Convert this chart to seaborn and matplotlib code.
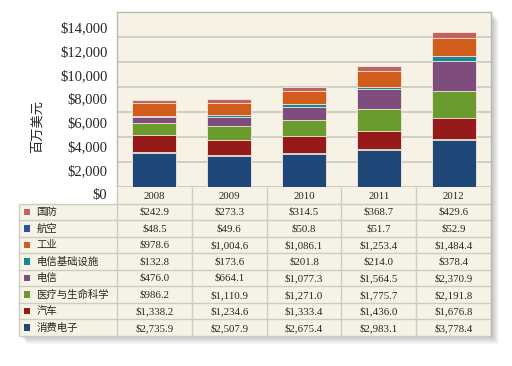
import numpy as np
import pandas as pd
import matplotlib
matplotlib.use("Agg")
import matplotlib.pyplot as plt
import seaborn as sns
from matplotlib.patches import Rectangle
from matplotlib.ticker import FuncFormatter
from matplotlib.transforms import ScaledTranslation

# data (table order, top row first)
years = ["2008", "2009", "2010", "2011", "2012"]
segments = ["国防", "航空", "工业", "电信基础设施", "电信", "医疗与生命科学", "汽车", "消费电子"]
defense = [242.9, 273.3, 314.5, 368.7, 429.6]
aviation = [48.5, 49.6, 50.8, 51.7, 52.9]
industrial = [978.6, 1004.6, 1086.1, 1253.4, 1484.4]
telecom_infra = [132.8, 173.6, 201.8, 214.0, 378.4]
telecom = [476.0, 664.1, 1077.3, 1564.5, 2370.9]
medical = [986.2, 1110.9, 1271.0, 1775.7, 2191.8]
auto = [1338.2, 1234.6, 1333.4, 1436.0, 1676.8]
consumer = [2735.9, 2507.9, 2675.4, 2983.1, 3778.4]

values = {
    "国防": defense, "航空": aviation, "工业": industrial,
    "电信基础设施": telecom_infra, "电信": telecom,
    "医疗与生命科学": medical, "汽车": auto, "消费电子": consumer,
}
colors = {
    "国防": "#c0625f", "航空": "#2a55a0", "工业": "#d15c1c",
    "电信基础设施": "#1b8796", "电信": "#7f4d7d",
    "医疗与生命科学": "#6b9a2f", "汽车": "#971a1a", "消费电子": "#1f4879",
}
# bottom -> top in the stack
stack_order = ["消费电子", "航空", "汽车", "医疗与生命科学", "电信", "电信基础设施", "工业", "国防"]

rows = []
for seg in segments:
    for y, v in zip(years, values[seg]):
        rows.append({"year": y, "segment": seg, "value": v})
df = pd.DataFrame(rows)
df["pos"] = df["segment"].map(stack_order.index)
df = df.sort_values(["year", "pos"])
df["cum"] = df.groupby("year")["value"].cumsum()

serif = "Liberation Serif"
cjk = ["Noto Sans CJK SC", "DejaVu Sans"]
cream = "#f6f3e6"
line_c = "#cdcbc2"
text_c = "#262626"

fig = plt.figure(figsize=(5.12, 3.66), dpi=100)
W, H = 512.0, 366.0

# soft drop shadow behind the panel
for d in range(1, 9):
    for (x0, y0, x1, y1) in [(117, 12, 491, 205), (19, 205, 491, 336)]:
        fig.patches.append(Rectangle(((x0 + d) / W, 1 - (y1 + d) / H),
                                     (x1 - x0) / W, (y1 - y0) / H,
                                     transform=fig.transFigure, facecolor="black",
                                     edgecolor="none", alpha=0.03, zorder=-5))

ax = fig.add_axes([117 / W, 1 - 187 / H, 374 / W, 175 / H])
ax.set_facecolor(cream)

for seg in stack_order[::-1]:
    sub = df[df["segment"] == seg]
    sns.barplot(data=sub, x="year", y="cum", order=years, color=colors[seg],
                saturation=1, width=0.59, errorbar=None, ax=ax,
                edgecolor="#f3eddc", linewidth=0.6, zorder=3)

ax.set_xlim(-0.5, 4.5)
ax.set_ylim(0, 14000)
ax.set_yticks(np.arange(0, 14001, 2000))
ax.yaxis.set_major_formatter(FuncFormatter(lambda v, p: f"${v:,.0f}"))
ax.set_xticks([])
ax.set_xlabel("")
ax.tick_params(axis="y", length=0, pad=7, labelsize=10.5, labelcolor=text_c)
# the original labels sit a little below their grid lines
for v, lab in zip(ax.get_yticks(), ax.get_yticklabels()):
    lab.set_family(serif)
    shift = -(7 + 8 * v / 14000) / 100
    lab.set_transform(lab.get_transform() + ScaledTranslation(0, shift, fig.dpi_scale_trans))
ax.yaxis.grid(True, color=line_c, lw=1.3)
ax.set_axisbelow(True)
for s in ax.spines.values():
    s.set_color("#b9b8b0")
    s.set_linewidth(1.0)
ax.set_ylabel("百万美元", family=cjk, fontsize=9.5, color=text_c)
ax.yaxis.set_label_coords(-0.195, 0.343)

# data table under the bars
tax = fig.add_axes([19 / W, 30 / H, 472 / W, 149 / H])
tax.set_xlim(-1.81, 4.5)
tax.set_ylim(8.5, -0.5)
tax.axis("off")
tax.add_patch(Rectangle((-0.5, -0.5), 5, 1, facecolor=cream, edgecolor="none"))
tax.add_patch(Rectangle((-1.81, 0.5), 6.31, 8, facecolor=cream, edgecolor="none"))

tax.hlines(np.arange(0.5, 8.6, 1), -1.81, 4.5, color=line_c, lw=1.0, clip_on=False)
tax.vlines(np.arange(-0.5, 4.6, 1), -0.5, 8.5, color=line_c, lw=1.0, clip_on=False)
tax.vlines([-1.81], 0.5, 8.5, color=line_c, lw=1.0, clip_on=False)
tax.vlines([4.5], -0.5, 8.5, color="#b9b8b0", lw=1.0, clip_on=False)

for i, y in enumerate(years):
    tax.text(i, 0.05, y, ha="center", va="center", family=serif,
             fontsize=7.8, color=text_c)

for r, seg in enumerate(segments, start=1):
    tax.scatter([-1.70], [r], marker="s", s=22, color=colors[seg],
                edgecolor="none", clip_on=False)
    tax.text(-1.58, r, seg, ha="left", va="center", family=cjk,
             fontsize=7.5, color=text_c)
    for i, v in enumerate(values[seg]):
        tax.text(i, r + 0.02, f"${v:,.1f}", ha="center", va="center",
                 family=serif, fontsize=7.8, color=text_c)

fig.savefig("out.png", dpi=100, facecolor="white")
